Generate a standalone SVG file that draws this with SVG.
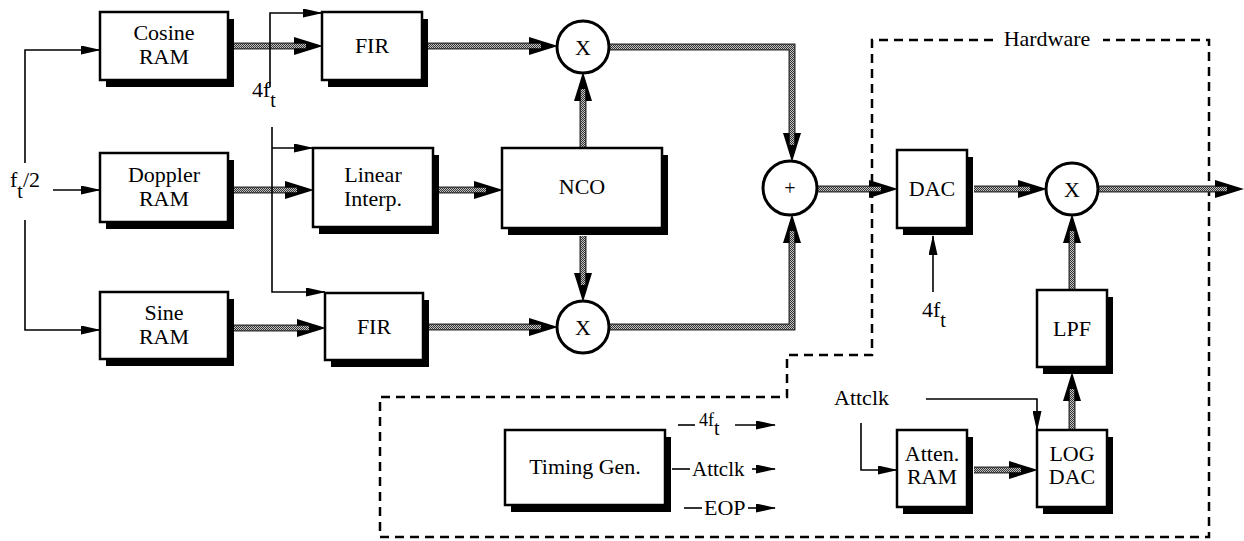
<svg xmlns="http://www.w3.org/2000/svg" width="1244" height="541" viewBox="0 0 1244 541" font-family="'Liberation Serif', 'DejaVu Serif', serif">
<style>
text{font-family:'Liberation Serif','DejaVu Serif',serif;font-size:22px;fill:#000}
.c{text-anchor:middle}
.s18{font-size:18px}
.s20{font-size:20px}
.s21{font-size:21px}
.sh{fill:#000}
.bx{fill:#fff;stroke:#000;stroke-width:2.5}
.ci{fill:#fff;stroke:#000;stroke-width:3}
.be{fill:none;stroke:#2a2a2a;stroke-width:7;marker-end:url(#ah)}
.bi{fill:none;stroke:url(#stip);stroke-width:4.5}
.th{fill:none;stroke:#000;stroke-width:1.6}
.ta{fill:none;stroke:#000;stroke-width:1.6;marker-end:url(#at)}
.dash{fill:none;stroke:#000;stroke-width:2.5;stroke-dasharray:9 6}
</style>
<defs>
<pattern id="stip" patternUnits="userSpaceOnUse" width="2" height="2">
<rect width="2" height="2" fill="#c4c4c4"/>
<rect width="1" height="1" fill="#333"/>
<rect x="1" y="1" width="1" height="1" fill="#333"/>
</pattern>
<marker id="ah" viewBox="0 0 29 18" refX="12" refY="9" markerWidth="29" markerHeight="18" markerUnits="userSpaceOnUse" orient="auto">
<path d="M0,0 L29,9 L0,18 z" fill="#000"/>
</marker>
<marker id="at" viewBox="0 0 20 9" refX="19" refY="4.5" markerWidth="20" markerHeight="9" markerUnits="userSpaceOnUse" orient="auto">
<path d="M0,0 L20,4.5 L0,9 z" fill="#000"/>
</marker>
</defs>
<rect width="1244" height="541" fill="#fff"/>

<g id="hardware">
<path class="dash" d="M993 40 H872 V355 H787 V397 H380 V537 H1209 V40 H1103"/>
<text class="c" x="1047" y="46">Hardware</text>
</g>

<g id="connectors">
<path class="be" d="M234 46 H306"/>
<path class="be" d="M428 46 H541"/>
<path class="be" d="M609 47 H792 V145"/>
<path class="be" d="M583 148 V89"/>
<path class="be" d="M583 236 V285"/>
<path class="be" d="M234 190 H297"/>
<path class="be" d="M438 190 H486"/>
<path class="be" d="M234 328 H309"/>
<path class="be" d="M429 327 H541"/>
<path class="be" d="M609 327 H792 V231"/>
<path class="be" d="M817 189 H881"/>
<path class="be" d="M974 189 H1030"/>
<path class="be" d="M1098 189 H1227"/>
<path class="be" d="M1072 290 V231"/>
<path class="be" d="M1072 430 V389"/>
<path class="be" d="M974 470 H1021"/>
<path class="bi" d="M234 46 H306"/>
<path class="bi" d="M428 46 H541"/>
<path class="bi" d="M609 47 H792 V145"/>
<path class="bi" d="M583 148 V89"/>
<path class="bi" d="M583 236 V285"/>
<path class="bi" d="M234 190 H297"/>
<path class="bi" d="M438 190 H486"/>
<path class="bi" d="M234 328 H309"/>
<path class="bi" d="M429 327 H541"/>
<path class="bi" d="M609 327 H792 V231"/>
<path class="bi" d="M817 189 H881"/>
<path class="bi" d="M974 189 H1030"/>
<path class="bi" d="M1098 189 H1227"/>
<path class="bi" d="M1072 290 V231"/>
<path class="bi" d="M1072 430 V389"/>
<path class="bi" d="M974 470 H1021"/>
<path class="ta" d="M25 163 V50 H100"/>
<path class="ta" d="M25 220 V330 H100"/>
<path class="ta" d="M53 190 H100"/>
<path class="ta" d="M270 87 V13 H322"/>
<path class="ta" d="M272 127 V292 H325"/>
<path class="ta" d="M272 148 H313"/>
<path class="ta" d="M933 292 V236"/>
<path class="ta" d="M926 399 H1037 V430"/>
<path class="ta" d="M861 423 V470 H897"/>
<path class="th" d="M678 425 H695"/>
<path class="ta" d="M735 425 H775"/>
<path class="th" d="M672 469 H690"/>
<path class="ta" d="M752 469 H775"/>
<path class="th" d="M684 508 H702"/>
<path class="ta" d="M748 508 H775"/>
</g>

<g id="labels">
<text x="10" y="187">f<tspan class="s20" dy="11">t</tspan><tspan dy="-11">/2</tspan></text>
<text x="252" y="97">4f<tspan class="s20" dy="10">t</tspan></text>
<text x="922" y="317">4f<tspan class="s20" dy="10">t</tspan></text>
<text x="834" y="405">Attclk</text>
<text class="s18" x="699" y="426">4f<tspan class="s20" dy="9">t</tspan></text>
<text class="s21" x="692" y="476">Attclk</text>
<text x="704" y="515">EOP</text>
</g>

<g id="cosine-ram"><rect class="sh" x="106" y="19" width="128" height="68"/><rect class="bx" x="100" y="12" width="128" height="68"/><text class="c" x="164" y="40">Cosine</text><text class="c" x="164" y="64">RAM</text></g>
<g id="fir-top"><rect class="sh" x="328" y="19" width="100" height="68"/><rect class="bx" x="322" y="12" width="100" height="68"/><text class="c" x="372" y="53">FIR</text></g>
<g id="doppler-ram"><rect class="sh" x="106" y="160" width="128" height="69"/><rect class="bx" x="100" y="153" width="128" height="69"/><text class="c" x="164" y="182">Doppler</text><text class="c" x="164" y="206">RAM</text></g>
<g id="linear-interp"><rect class="sh" x="319" y="155" width="120" height="79"/><rect class="bx" x="313" y="148" width="120" height="79"/><text class="c" x="373" y="182">Linear</text><text class="c" x="373" y="206">Interp.</text></g>
<g id="nco"><rect class="sh" x="508" y="155" width="160" height="80"/><rect class="bx" x="502" y="148" width="160" height="80"/><text class="c" x="582" y="194">NCO</text></g>
<g id="sine-ram"><rect class="sh" x="106" y="299" width="128" height="67"/><rect class="bx" x="100" y="292" width="128" height="67"/><text class="c" x="164" y="320">Sine</text><text class="c" x="164" y="344">RAM</text></g>
<g id="fir-bottom"><rect class="sh" x="331" y="300" width="98" height="67"/><rect class="bx" x="325" y="293" width="98" height="67"/><text class="c" x="374" y="334">FIR</text></g>
<g id="mult-top"><circle class="ci" cx="583" cy="47" r="26"/><text class="c" x="583" y="55">X</text></g>
<g id="mult-bottom"><circle class="ci" cx="583" cy="327" r="26"/><text class="c" x="583" y="335">X</text></g>
<g id="sum"><circle class="ci" cx="790" cy="188" r="27"/><text class="c s20" x="790" y="195">+</text></g>
<g id="dac"><rect class="sh" x="903" y="157" width="70" height="78"/><rect class="bx" x="897" y="150" width="70" height="78"/><text class="c" x="932" y="196">DAC</text></g>
<g id="mult-out"><circle class="ci" cx="1072" cy="189" r="26"/><text class="c" x="1072" y="197">X</text></g>
<g id="lpf"><rect class="sh" x="1043" y="297" width="70" height="77"/><rect class="bx" x="1037" y="290" width="70" height="77"/><text class="c" x="1072" y="336">LPF</text></g>
<g id="log-dac"><rect class="sh" x="1043" y="437" width="70" height="77"/><rect class="bx" x="1037" y="430" width="70" height="77"/><text class="c" x="1072" y="461">LOG</text><text class="c" x="1072" y="484">DAC</text></g>
<g id="atten-ram"><rect class="sh" x="903" y="437" width="70" height="77"/><rect class="bx" x="897" y="430" width="70" height="77"/><text class="c" x="932" y="461">Atten.</text><text class="c" x="932" y="484">RAM</text></g>
<g id="timing-gen"><rect class="sh" x="511" y="437" width="160" height="75"/><rect class="bx" x="505" y="430" width="160" height="75"/><text class="c" x="585" y="474">Timing Gen.</text></g>
</svg>
